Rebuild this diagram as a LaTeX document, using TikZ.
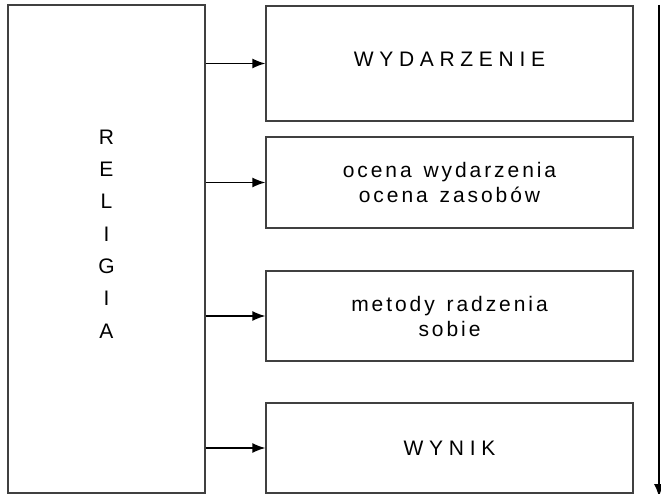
\documentclass[tikz,border=0pt]{standalone}
\usepackage{fontspec}
\setmainfont{Liberation Sans}
\usetikzlibrary{arrows.meta}
\usetikzlibrary{positioning}
\tikzset{>={Latex[length=13pt,width=10pt]}}
\tikzstyle{box} = [draw=black!75, line width=1.1pt, align=center, inner sep=0pt, font=\fontsize{21}{25}\selectfont\addfontfeature{LetterSpace=14}]
\tikzstyle{caps} = [font=\fontsize{21}{25}\selectfont\addfontfeature{LetterSpace=27}]
\tikzstyle{link} = [->, line width=1.6pt]

\begin{document}
\begin{tikzpicture}[x=1pt, y=-1pt]
\useasboundingbox (0,0) rectangle (661,494);
% left column
\node [box, minimum width=197pt, minimum height=488pt] (rel) at (106.5, 249) {};
\node [draw=none, align=center, font=\fontsize{21}{32.3}\selectfont] (reltxt) at (106.5, 234) {R\\E\\L\\I\\G\\I\\A};
% stages
\node [box, caps, minimum width=367pt, minimum height=115pt] (wyd) at (449.5, 63.5) {\raisebox{9pt}{WYDARZENIE}};
\node [box, minimum width=367pt, minimum height=91pt] (oce) at (449.5, 182.5) {ocena\hspace{3pt} wydarzenia\\ocena\hspace{3pt} zasobów};
\node [box, minimum width=367pt, minimum height=90pt] (met) at (449.5, 316) {metody\hspace{3pt} radzenia\\sobie};
\node [box, caps, minimum width=367pt, minimum height=90pt] (wyn) at (449.5, 448) {WYNIK};
\draw [link] (rel.east |- wyd.west) to (wyd.west);
\draw [link] (rel.east |- oce.west) to (oce.west);
\draw [link] (rel.east |- met.west) to (met.west);
\draw [link] (rel.east |- wyn.west) to (wyn.west);
% time axis
\coordinate (t0) at (659, 5);
\coordinate (t1) at (659, 497);
\draw [->, line width=1.4pt] (t0) to (t1);
\end{tikzpicture}
\end{document}
